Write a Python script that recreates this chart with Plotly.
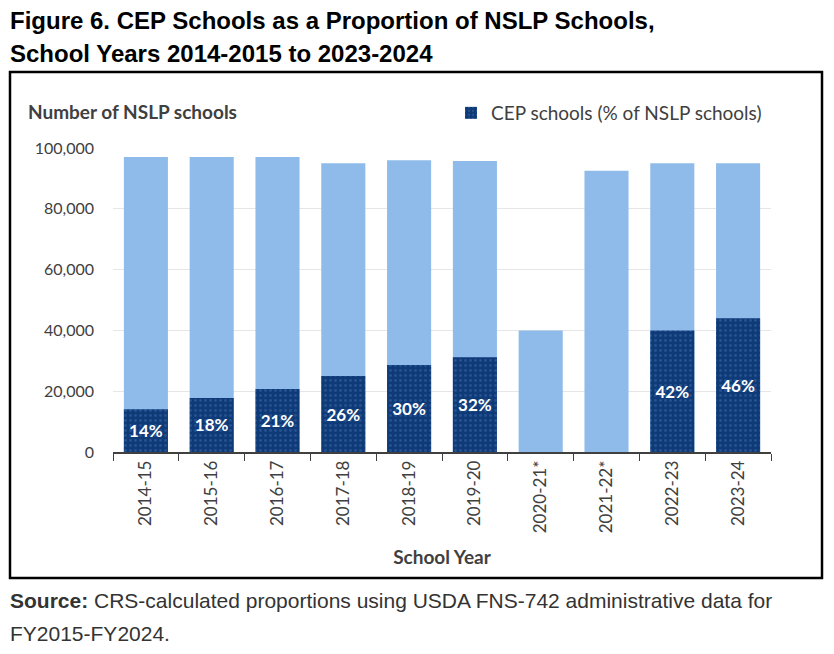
import plotly.graph_objects as go

years = ["2014-15", "2015-16", "2016-17", "2017-18", "2018-19", "2019-20",
         "2020-21*", "2021-22*", "2022-23", "2023-24"]
nslp_schools = [97000, 97000, 97000, 95000, 96000, 95700, 40000, 92500, 95000, 95000]
cep_schools = [14100, 17800, 20700, 25000, 28600, 31200, None, None, 40000, 44000]
cep_labels = ["14%", "18%", "21%", "26%", "30%", "32%", "", "", "42%", "46%"]

# the page body has an 8px margin; lay out in window pixels and compensate
O = 8
W, H = 834 - O, 654 - O
L, R, T, B = 113, 771, 148, 452  # plot area in window pixels


def px(x):
    return (x - L) / (R - L)


def py(y):
    return (B - y) / (B - T)


FONT = "Lato"
fig = go.Figure()
fig.add_trace(go.Bar(
    x=years, y=nslp_schools, name="NSLP schools", showlegend=False,
    marker=dict(color="#8fbbea", line=dict(width=0)), hoverinfo="x+y",
))
fig.add_trace(go.Bar(
    x=years, y=cep_schools, name="CEP schools (% of NSLP schools)",
    text=cep_labels, textposition="inside", insidetextanchor="middle",
    textfont=dict(color="white", size=17, family=FONT, weight="bold"),
    marker=dict(color="#0f3a78", line=dict(width=0),
                pattern=dict(shape=".", fgcolor="#3d6aa8", bgcolor="#0f3a78",
                             size=5, solidity=0.25)),
))

fig.update_layout(
    width=W, height=H, barmode="overlay", bargap=0.33,
    plot_bgcolor="white", paper_bgcolor="white",
    margin=dict(l=L - O, r=834 - R, t=T - O, b=654 - B),
    font=dict(family=FONT, color="#404040", size=16),
    uniformtext=dict(minsize=16, mode="show"),
    legend=dict(orientation="h", x=px(451), y=py(113), xanchor="left", yanchor="middle",
                font=dict(size=19, color="#404040"), itemwidth=30, traceorder="normal"),
    xaxis=dict(type="category", tickangle=-90, showgrid=False,
               showline=True, linecolor="#404040", linewidth=1.5,
               ticks="outside", tickson="boundaries", ticklen=7, tickcolor="#404040",
               tickfont=dict(size=17, color="#404040"),
               title=dict(text="<b>School Year</b>", font=dict(size=19, color="#404040"),
                          standoff=18)),
    yaxis=dict(range=[0, 100000], tickvals=[0, 20000, 40000, 60000, 80000, 100000],
               tickformat=",", showgrid=True, gridcolor="#e6e6e6", gridwidth=1,
               zeroline=False, showline=False, ticks="", ticklabelstandoff=18,
               tickfont=dict(size=16, color="#404040")),
)

# outer black frame
fig.add_shape(type="rect", xref="paper", yref="paper",
              x0=px(10), x1=px(822), y0=py(578), y1=py(72),
              line=dict(color="black", width=2.5), fillcolor="rgba(0,0,0,0)", layer="below")

fig.add_annotation(xref="paper", yref="paper", x=px(26), y=py(111), xanchor="left",
                   yanchor="middle", showarrow=False,
                   text="<b>Number of NSLP schools</b>", font=dict(size=19, color="#404040"))

TITLE_FONT = dict(family="Liberation Sans", size=24, color="black")
fig.add_annotation(xref="paper", yref="paper", x=px(8), y=py(21), xanchor="left",
                   yanchor="middle", showarrow=False, align="left",
                   text="<b>Figure 6. CEP Schools as a Proportion of NSLP Schools,</b>",
                   font=TITLE_FONT)
fig.add_annotation(xref="paper", yref="paper", x=px(8), y=py(53), xanchor="left",
                   yanchor="middle", showarrow=False, align="left",
                   text="<b>School Years 2014-2015 to 2023-2024</b>",
                   font=TITLE_FONT)

SRC_FONT = dict(family="Liberation Sans", size=21, color="#333333")
fig.add_annotation(xref="paper", yref="paper", x=px(8), y=py(600), xanchor="left",
                   yanchor="middle", showarrow=False, align="left",
                   text="<b>Source:</b> CRS-calculated proportions using USDA FNS-742 administrative data for",
                   font=SRC_FONT)
fig.add_annotation(xref="paper", yref="paper", x=px(8), y=py(633), xanchor="left",
                   yanchor="middle", showarrow=False, align="left",
                   text="FY2015-FY2024.",
                   font=SRC_FONT)

fig.write_html("out.html")
